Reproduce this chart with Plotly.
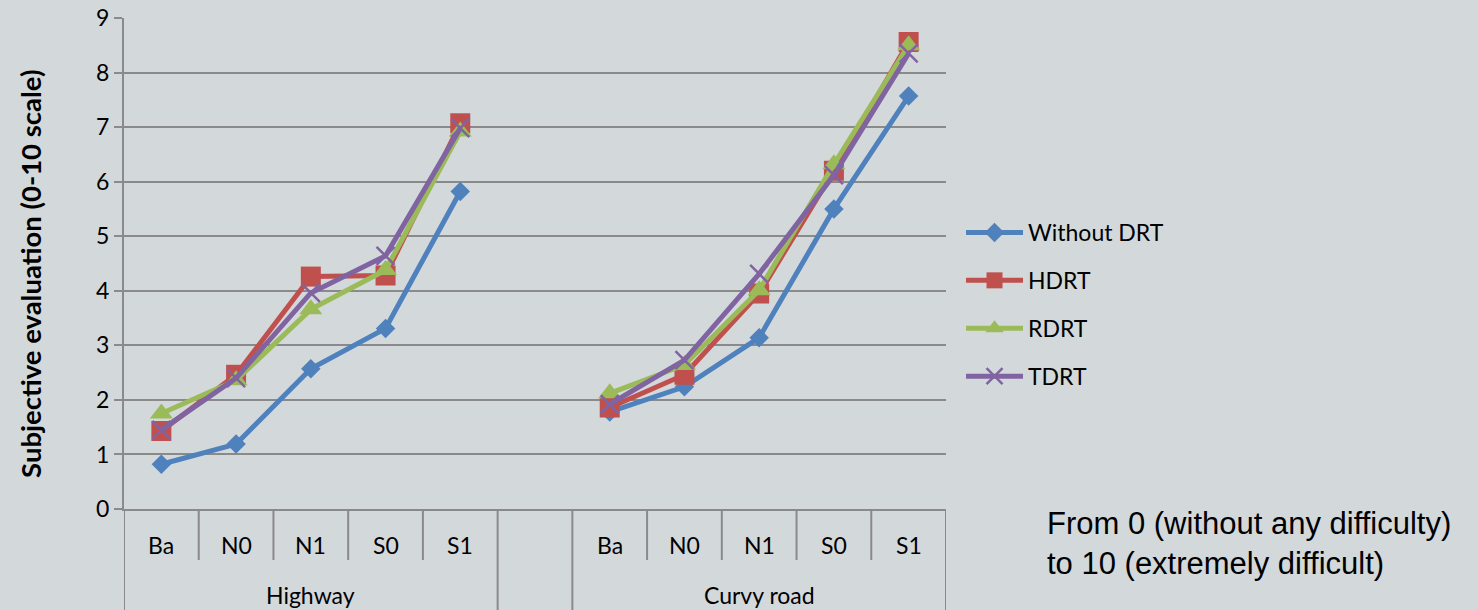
import plotly.graph_objects as go

# Conditions along the category axis (two road types, blank slot between)
conditions = ["Ba", "N0", "N1", "S0", "S1"]
road_types = ["Highway", "Curvy road"]

# Mean subjective evaluation per condition (highway, then curvy road)
without_drt_highway = [0.82, 1.19, 2.57, 3.31, 5.82]
without_drt_curvy = [1.78, 2.24, 3.14, 5.50, 7.57]
hdrt_highway = [1.43, 2.46, 4.26, 4.28, 7.07]
hdrt_curvy = [1.86, 2.46, 3.95, 6.20, 8.56]
rdrt_highway = [1.75, 2.36, 3.66, 4.38, 6.92]
rdrt_curvy = [2.12, 2.64, 4.01, 6.32, 8.50]
tdrt_highway = [1.45, 2.40, 3.96, 4.64, 6.98]
tdrt_curvy = [1.92, 2.73, 4.31, 6.12, 8.35]

series_names = ["Without DRT", "HDRT", "RDRT", "TDRT"]
series_values = [
    (without_drt_highway, without_drt_curvy),
    (hdrt_highway, hdrt_curvy),
    (rdrt_highway, rdrt_curvy),
    (tdrt_highway, tdrt_curvy),
]
colors = ["#4F81BD", "#C0504D", "#9BBB59", "#8064A2"]
symbols = ["diamond", "square", "triangle-up", "x-thin"]
sizes = [15, 20, 20, 18]

BG = "rgb(211,216,219)"
GRID = "#8a8a8a"
FONT = "Lato"

n = len(conditions)
# Highway slots 0..4, empty slot 5, curvy road slots 6..10
x_pos = list(range(2 * n + 1))
tick_labels = conditions + [""] + conditions

fig = go.Figure()
for name, (hw, cv), col, sym, sz in zip(series_names, series_values, colors, symbols, sizes):
    y = list(hw) + [None] + list(cv)
    marker = dict(symbol=sym, size=sz, color=col)
    if sym == "x-thin":
        marker["line"] = dict(color=col, width=2.5)
    fig.add_trace(go.Scatter(
        x=x_pos, y=y, name=name, mode="lines+markers",
        line=dict(color=col, width=5), marker=marker,
        connectgaps=False, legendgroup=name,
    ))

# Plot geometry in pixels (used for placing axis-level labels)
plot_h = 491
short_div = -(560 - 509) / plot_h
full_div = -(610 - 509) / plot_h

shapes = []
for i in range(len(x_pos) + 1):
    xb = i - 0.5
    full = xb in (-0.5, n - 0.5, n + 0.5, 2 * n + 0.5)
    shapes.append(dict(
        type="line", xref="x", yref="paper", x0=xb, x1=xb,
        y0=0, y1=full_div if full else short_div,
        line=dict(color=GRID, width=2), layer="above",
    ))

annotations = []
for xp, lab in zip(x_pos, tick_labels):
    if lab:
        annotations.append(dict(
            x=xp, y=0, xref="x", yref="paper", yshift=-36, text=lab,
            showarrow=False, font=dict(family=FONT, size=23, color="black"),
            xanchor="center", yanchor="middle",
        ))
for center, lab in zip([(n - 1) / 2, n + 1 + (n - 1) / 2], road_types):
    annotations.append(dict(
        x=center, y=0, xref="x", yref="paper", yshift=-86, text=lab,
        showarrow=False, font=dict(family=FONT, size=23, color="black"),
        xanchor="center", yanchor="middle",
    ))
annotations.append(dict(
    x=(30 - 124) / 821, y=(509 - 274) / plot_h, xref="paper", yref="paper",
    text="<b>Subjective evaluation (0-10 scale)</b>", textangle=-90,
    showarrow=False, font=dict(family=FONT, size=27.5, color="black"),
    xanchor="center", yanchor="middle",
))
annotations.append(dict(
    x=(1044 - 124) / 821, y=(509 - 543) / plot_h, xref="paper", yref="paper",
    text="From 0 (without any difficulty)<br>to 10 (extremely difficult)",
    showarrow=False, align="left",
    font=dict(family="Liberation Sans", size=31, color="black"),
    xanchor="left", yanchor="middle",
))

fig.update_layout(
    width=1478, height=610,
    margin=dict(l=124, r=1478 - 946, t=18, b=610 - 509, autoexpand=False),
    paper_bgcolor=BG, plot_bgcolor=BG,
    showlegend=True,
    legend=dict(
        x=(960 - 124) / 821, y=(509 - 211) / plot_h, xanchor="left", yanchor="top",
        font=dict(family=FONT, size=23, color="black"),
        bgcolor="rgba(0,0,0,0)", tracegroupgap=15, traceorder="grouped",
        itemwidth=57,
    ),
    shapes=shapes, annotations=annotations,
)
fig.update_xaxes(
    range=[-0.5, 2 * n + 0.5], tickvals=x_pos, showticklabels=False,
    ticks="", showgrid=False, zeroline=False, automargin=False,
    showline=True, linecolor=GRID, linewidth=2,
)
fig.update_yaxes(
    range=[0, 9], dtick=1, tick0=0, automargin=False,
    showgrid=True, gridcolor=GRID, gridwidth=2, zeroline=False,
    showline=True, linecolor=GRID, linewidth=2,
    ticks="outside", ticklen=8, tickcolor=GRID, tickwidth=2,
    tickfont=dict(family=FONT, size=23, color="black"),
)

fig.write_html("out.html")
